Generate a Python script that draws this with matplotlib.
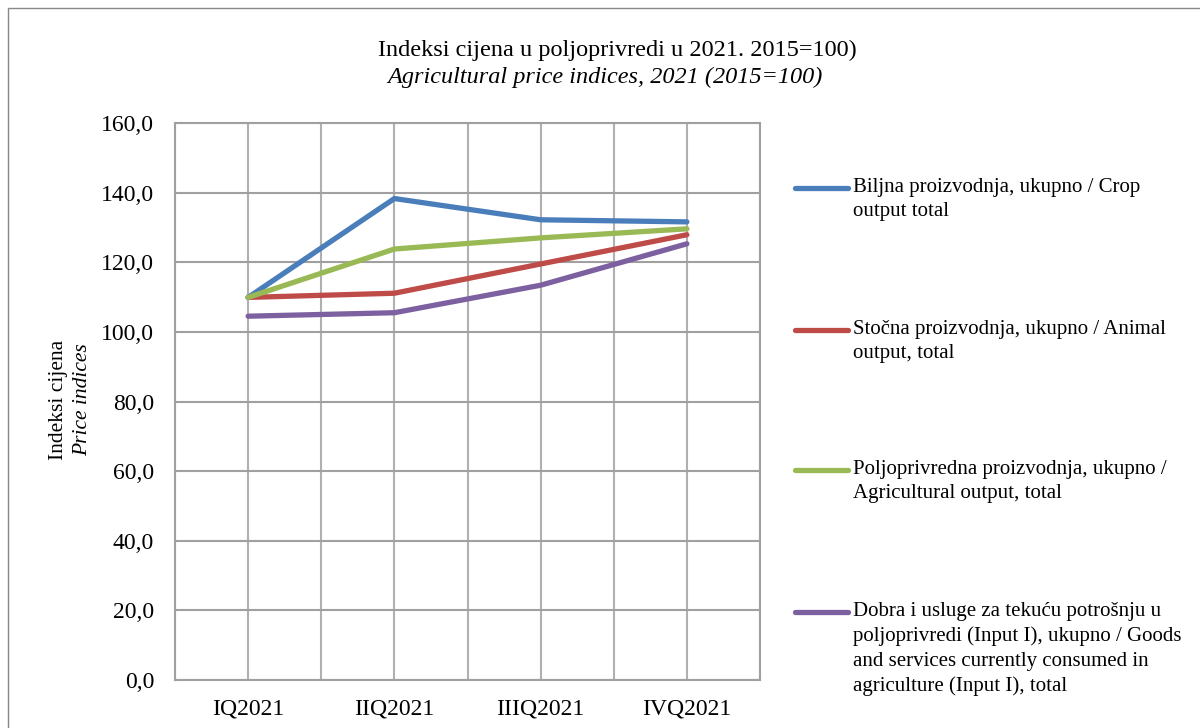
"""Agricultural price indices, 2021 (2015=100)"""
import matplotlib.pyplot as plt
from matplotlib.lines import Line2D
from matplotlib.patches import Rectangle
from matplotlib.ticker import FuncFormatter, MultipleLocator

QUARTERS = ['IQ2021', 'IIQ2021', 'IIIQ2021', 'IVQ2021']
CROP = [109.9, 138.3, 132.2, 131.6]
ANIMAL = [109.9, 111.1, 119.5, 127.9]
AGRI = [109.9, 123.8, 127.0, 129.6]
INPUT_I = [104.5, 105.5, 113.4, 125.3]

LABELS = [
    'Biljna proizvodnja, ukupno / Crop\noutput total',
    'Stočna proizvodnja, ukupno / Animal\noutput, total',
    'Poljoprivredna proizvodnja, ukupno /\nAgricultural output, total',
    'Dobra i usluge za tekuću potrošnju u\npoljoprivredi (Input I), ukupno / Goods\n'
    'and services currently consumed in\nagriculture (Input I), total',
]
COLORS = ['#4A7EBB', '#BE4B48', '#98B954', '#7D60A0']

plt.rcParams['font.family'] = ['Liberation Serif', 'DejaVu Serif']

fig = plt.figure(figsize=(12, 7.28), dpi=100)
ax = fig.add_axes([175/1200, 48/728, 585/1200, 557/728])

x = range(len(QUARTERS))
for series, color in zip([CROP, ANIMAL, AGRI, INPUT_I], COLORS):
    ax.plot(x, series, color=color, lw=3.8, solid_capstyle='round')

ax.set_xlim(-0.5, 3.5)
ax.set_ylim(0, 160)
ax.set_xticks(list(x))
ax.set_xticklabels(QUARTERS, fontsize=17)
ax.xaxis.set_minor_locator(MultipleLocator(1, offset=0.5))
ax.yaxis.set_major_locator(MultipleLocator(20))
ax.yaxis.set_major_formatter(FuncFormatter(lambda v, p: f'{v:.1f}'.replace('.', ',')))
ax.tick_params(axis='y', labelsize=17, length=0, pad=15)
ax.tick_params(axis='x', which='both', length=0, pad=13)

ax.grid(True, which='both', axis='x', color='#B0B0B0', lw=1.5)
ax.grid(True, which='major', axis='y', color='#A0A0A0', lw=1.5)
ax.set_axisbelow(True)
for s in ax.spines.values():
    s.set_color('#A0A0A0')
    s.set_linewidth(1.5)

fig.text(617/1200, 1 - 50/728, 'Indeksi cijena u poljoprivredi u 2021. 2015=100)',
         ha='center', va='center', fontsize=17.5)
fig.text(605/1200, 1 - 77/728, 'Agricultural price indices, 2021 (2015=100)',
         ha='center', va='center', fontsize=17.5, style='italic')

fig.text(58/1200, 1 - 400/728, 'Indeksi cijena', rotation=90,
         ha='center', va='center', fontsize=15.5)
fig.text(83/1200, 1 - 400/728, 'Price indices', rotation=90,
         ha='center', va='center', fontsize=15.5, style='italic')

# legend
leg_y = [188, 330, 470, 612]
for label, color, yy in zip(LABELS, COLORS, leg_y):
    fig.add_artist(Line2D([795/1200, 848/1200], [1 - yy/728] * 2, color=color,
                          lw=3.8, solid_capstyle='round'))
    fig.text(853/1200, 1 - (yy - 10)/728, label, ha='left', va='top',
             fontsize=15, linespacing=1.38)

fig.add_artist(Rectangle((8/1200, -0.01), 1.01, 1 - 8/728 + 0.01,
                         transform=fig.transFigure, fill=False,
                         edgecolor='#888888', lw=1))

fig.savefig('out.png', dpi=100)
